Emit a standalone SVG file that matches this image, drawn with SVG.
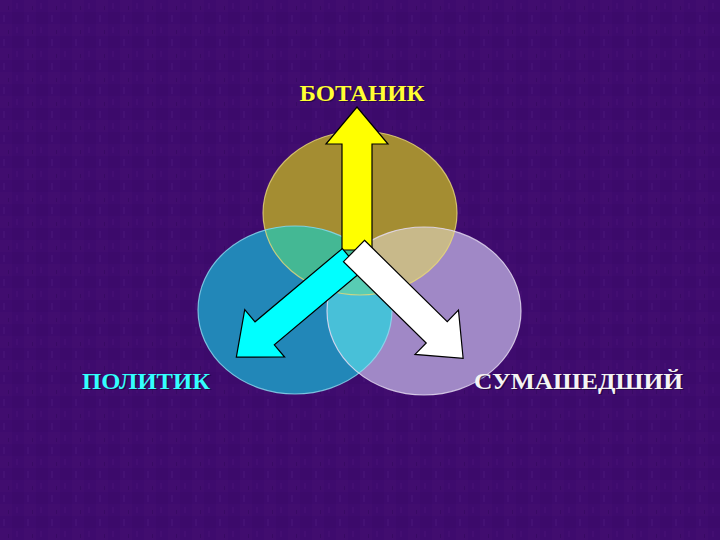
<svg xmlns="http://www.w3.org/2000/svg" width="720" height="540" viewBox="0 0 720 540">
<style>
.lbl{font-family:"Liberation Serif","Times New Roman",serif;font-weight:bold;font-size:23px;text-anchor:middle}
.arrow{stroke:#000;stroke-width:1.2;stroke-linejoin:miter}
.edge{fill:none;stroke-width:1.2;opacity:0.8}
</style>
<defs>
<pattern id="tex" width="24" height="24" patternUnits="userSpaceOnUse">
<rect width="24" height="24" fill="#3e0b6e"/>
<rect x="0" y="0" width="12" height="12" fill="#430f70" opacity="0.6"/>
<rect x="12" y="12" width="12" height="12" fill="#3a0a69" opacity="0.6"/>
<rect x="3" y="15" width="2" height="7" fill="#4a1879" opacity="0.5"/>
<rect x="16" y="3" width="2" height="6" fill="#481276" opacity="0.5"/>
<rect x="8" y="6" width="1" height="4" fill="#30085a" opacity="0.5"/>
</pattern>
<clipPath id="cTop"><ellipse cx="360" cy="213" rx="97" ry="82"/></clipPath>
<clipPath id="cLeft"><ellipse cx="295" cy="310" rx="97" ry="84"/></clipPath>
</defs>
<rect width="720" height="540" fill="url(#tex)"/>

<g id="circle-top"><ellipse cx="360" cy="213" rx="97" ry="82" fill="#a48d32"/></g>
<g id="circle-left"><ellipse cx="295" cy="310" rx="97" ry="84" fill="#2287b8"/></g>
<g id="circle-right"><ellipse cx="424" cy="311" rx="97" ry="84" fill="#a088c6"/></g>
<g id="overlaps">
<ellipse cx="295" cy="310" rx="97" ry="84" fill="#44b894" clip-path="url(#cTop)"/>
<ellipse cx="424" cy="311" rx="97" ry="84" fill="#c8b98a" clip-path="url(#cTop)"/>
<ellipse cx="424" cy="311" rx="97" ry="84" fill="#48c0d8" clip-path="url(#cLeft)"/>
<g clip-path="url(#cTop)"><ellipse cx="424" cy="311" rx="97" ry="84" fill="#58ccb4" clip-path="url(#cLeft)"/></g>
</g>
<g id="outlines">
<ellipse class="edge" cx="360" cy="213" rx="97" ry="82" stroke="#e8d878"/>
<ellipse class="edge" cx="295" cy="310" rx="97" ry="84" stroke="#8fdcf0"/>
<ellipse class="edge" cx="424" cy="311" rx="97" ry="84" stroke="#e8e0f4"/>
</g>

<g id="connectors">
<path class="arrow" fill="#ffff00" transform="translate(357,250) rotate(-90)" d="M0,-15 L106,-15 L106,-31 L143,0 L106,31 L106,15 L0,15 Z"/>
<path class="arrow" fill="#00ffff" transform="translate(352,260) rotate(140)" d="M0,-15 L114,-15 L114,-31 L151,0 L114,31 L114,15 L0,15 Z"/>
<path class="arrow" fill="#ffffff" transform="translate(354,251) rotate(44.5)" d="M0,-15 L116,-15 L116,-31 L153,0 L116,31 L116,15 L0,15 Z"/>
</g>

<g id="label-botanik"><text class="lbl" x="363.5" y="102" fill="#1a0530" opacity="0.6" textLength="125" lengthAdjust="spacingAndGlyphs">БОТАНИК</text><text class="lbl" x="362" y="101" fill="#ffff33" textLength="125" lengthAdjust="spacingAndGlyphs">БОТАНИК</text></g>
<g id="label-politik"><text class="lbl" x="147.5" y="390" fill="#1a0530" opacity="0.6" textLength="128" lengthAdjust="spacingAndGlyphs">ПОЛИТИК</text><text class="lbl" x="146" y="389" fill="#33ffff" textLength="128" lengthAdjust="spacingAndGlyphs">ПОЛИТИК</text></g>
<g id="label-sumashedshiy"><text class="lbl" x="580" y="390" fill="#1a0530" opacity="0.6" textLength="209" lengthAdjust="spacingAndGlyphs">СУМАШЕДШИЙ</text><text class="lbl" x="578.5" y="389" fill="#f4f4f4" textLength="209" lengthAdjust="spacingAndGlyphs">СУМАШЕДШИЙ</text></g>
</svg>
